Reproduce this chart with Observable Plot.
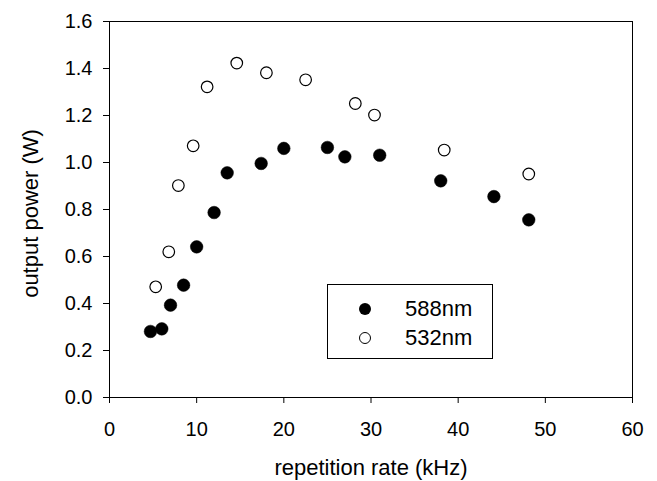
<!DOCTYPE html>
<html>
<head>
<meta charset="utf-8">
<script src="https://cdn.jsdelivr.net/npm/d3@7"></script>
<script src="https://cdn.jsdelivr.net/npm/@observablehq/plot@0.6"></script>
<style>
  html, body { margin: 0; padding: 0; background: #fff; }
  #wrap { position: relative; width: 657px; height: 481px; font-family: "Liberation Sans", Arial, sans-serif; }
  #wrap svg { display: block; }
  #legend { position: absolute; left: 327px; top: 284px; width: 166px; height: 75px; border: 1px solid #000; box-sizing: border-box; background: #fff; }
  .lg-row { position: absolute; left: 0; height: 28px; width: 100%; }
  .lg-sym { position: absolute; left: 31px; top: 8px; width: 12px; height: 12px; border-radius: 50%; box-sizing: border-box; }
  .lg-txt { position: absolute; left: 77px; top: 0; line-height: 28px; font-size: 22px; color: #000; }
</style>
</head>
<body>
<div id="wrap"></div>
<script>
// 588nm series (filled)
const rate588 = [4.7, 6.0, 7.0, 8.5, 10.0, 12.0, 13.5, 17.4, 20.0, 25.0, 27.0, 31.0, 38.0, 44.1, 48.1];
const power588 = [0.281, 0.292, 0.393, 0.478, 0.641, 0.787, 0.956, 0.996, 1.060, 1.064, 1.024, 1.031, 0.922, 0.855, 0.756];
// 532nm series (open)
const rate532 = [5.3, 6.8, 7.9, 9.6, 11.2, 14.6, 18.0, 22.5, 28.2, 30.4, 38.4, 48.1];
const power532 = [0.471, 0.620, 0.902, 1.071, 1.322, 1.423, 1.382, 1.352, 1.251, 1.202, 1.053, 0.951];
// ticks and labels
const xTicks = [0, 10, 20, 30, 40, 50, 60];
const yTicks = [0, 0.2, 0.4, 0.6, 0.8, 1.0, 1.2, 1.4, 1.6];
const xLabel = "repetition rate (kHz)";
const yLabel = "output power (W)";
const seriesNames = ["588nm", "532nm"];

const d588 = rate588.map((x, i) => ({x, y: power588[i]}));
const d532 = rate532.map((x, i) => ({x, y: power532[i]}));

const chart = Plot.plot({
  width: 657,
  height: 481,
  marginLeft: 109,
  marginRight: 25,
  marginTop: 21,
  marginBottom: 84,
  style: {fontFamily: "'Liberation Sans', Arial, sans-serif", fontSize: "20px", background: "white", color: "black"},
  x: {domain: [0, 60]},
  y: {domain: [0, 1.6]},
  marks: [
    Plot.axisX({ticks: xTicks, tickSize: 6, tickPadding: 18, label: null, fontSize: 20}),
    Plot.axisY({ticks: yTicks, tickSize: 6, tickPadding: 11, tickFormat: d => d.toFixed(1), label: null, fontSize: 20}),
    Plot.frame({stroke: "black", strokeWidth: 1}),
    Plot.dot(d532, {x: "x", y: "y", r: 5.8, stroke: "black", fill: "white", strokeWidth: 1.2}),
    Plot.dot(d588, {x: "x", y: "y", r: 6.3, fill: "black", stroke: "black", strokeWidth: 0.5}),
    Plot.text([xLabel], {frameAnchor: "bottom", dy: 70, lineAnchor: "middle", textAnchor: "middle", fontSize: 22, fill: "black"}),
    Plot.text([yLabel], {frameAnchor: "left", dx: -79, dy: 4, rotate: -90, textAnchor: "middle", lineAnchor: "middle", fontSize: 22, fill: "black"})
  ]
});

const wrap = document.getElementById("wrap");
wrap.appendChild(chart);

const legend = document.createElement("div");
legend.id = "legend";
seriesNames.forEach((name, i) => {
  const row = document.createElement("div");
  row.className = "lg-row";
  row.style.top = (10 + i * 28.5) + "px";
  const sym = document.createElement("div");
  sym.className = "lg-sym";
  if (i === 0) { sym.style.background = "#000"; }
  else { sym.style.background = "#fff"; sym.style.border = "1.2px solid #000"; }
  const txt = document.createElement("div");
  txt.className = "lg-txt";
  txt.textContent = name;
  row.appendChild(sym);
  row.appendChild(txt);
  legend.appendChild(row);
});
wrap.appendChild(legend);
</script>
</body>
</html>
